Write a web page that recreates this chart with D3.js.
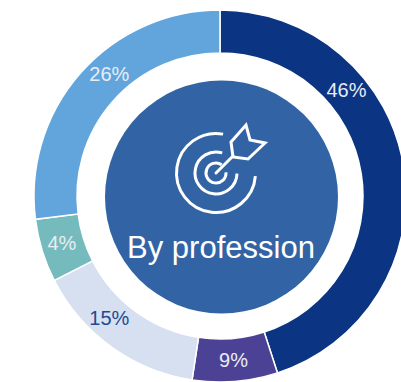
<!DOCTYPE html>
<html>
<head>
<meta charset="utf-8">
<script src="https://cdn.jsdelivr.net/npm/d3@7"></script>
<style>
html, body { margin: 0; padding: 0; background: #fff; overflow: hidden; }
text { font-family: "Liberation Sans", Arial, sans-serif; }
</style>
</head>
<body>
<svg id="chart" width="401" height="382"></svg>
<script>
// share of the ring each slice takes (not quite the printed labels)
const sliceValues = [45.0, 7.4, 15.1, 5.5, 27.0];
const sliceLabels = ["46%", "9%", "15%", "4%", "26%"];
const sliceColors = ["#0b3482", "#4c4295", "#d6e0f1", "#75bbbd", "#62a5dc"];
const labelColors = ["#e8edf5", "#e8edf5", "#1f4a94", "#e8edf5", "#e8edf5"];
// where each label sits around the ring, in percent of a full turn
const labelTurns = [13.9, 48.7, 61.7, 70.4, 88.3];
const centerTitle = "By profession";

const cx = 220, cy = 196;
const outerR = 186, innerR = 143, discR = 116.5;

let svg = d3.select("#chart");
let chart = svg.append("g").attr("transform", "translate(" + cx + "," + cy + ")");

let pie = d3.pie().value(d => d).sort(null);
let arc = d3.arc().innerRadius(innerR).outerRadius(outerR);
let slices = pie(sliceValues);

let turnScale = d3.scaleLinear().domain([0, 100]).range([0, 2 * Math.PI]);

// ring
chart.selectAll("path.slice")
    .data(slices)
    .enter().append("path")
    .attr("class", "slice")
    .attr("d", arc)
    .attr("fill", (d, i) => sliceColors[i])
    .attr("stroke", "#fff")
    .attr("stroke-width", 1.5);

// labels
chart.selectAll("text.pct")
    .data(labelTurns)
    .enter().append("text")
    .attr("class", "pct")
    .attr("text-anchor", "middle")
    .attr("font-size", 20)
    .attr("fill", (d, i) => labelColors[i])
    .attr("x", d => 165 * Math.sin(turnScale(d)))
    .attr("y", d => -165 * Math.cos(turnScale(d)) + 7)
    .text((d, i) => sliceLabels[i]);

// center disc
svg.append("circle")
    .attr("cx", 221.5)
    .attr("cy", 197)
    .attr("r", discR)
    .attr("fill", "#3264a5");

svg.append("text")
    .attr("x", 221)
    .attr("y", 258)
    .attr("text-anchor", "middle")
    .attr("font-size", 31)
    .attr("fill", "#fff")
    .text(centerTitle);

// target icon
let icon = svg.append("g")
    .attr("transform", "translate(216,173)")
    .attr("fill", "none")
    .attr("stroke", "#fff")
    .attr("stroke-width", 3)
    .attr("stroke-linecap", "round")
    .attr("stroke-linejoin", "miter");

function ringArc(r, start, end) {
    return d3.arc().innerRadius(r).outerRadius(r).startAngle(start).endAngle(end)();
}
icon.append("path").attr("d", ringArc(39.5, 1.65, 2 * Math.PI + 0.18));
icon.append("path").attr("d", ringArc(21, 1.6, 2 * Math.PI + 0.3));
icon.append("path").attr("d", ringArc(10, 1.5, 2 * Math.PI + 0.6));
icon.append("path").attr("d", "M0,0L17,-17");
icon.append("path").attr("d", "M15,-31L30,-48L34,-33L49,-30L32,-14L17,-16Z");
</script>
</body>
</html>
